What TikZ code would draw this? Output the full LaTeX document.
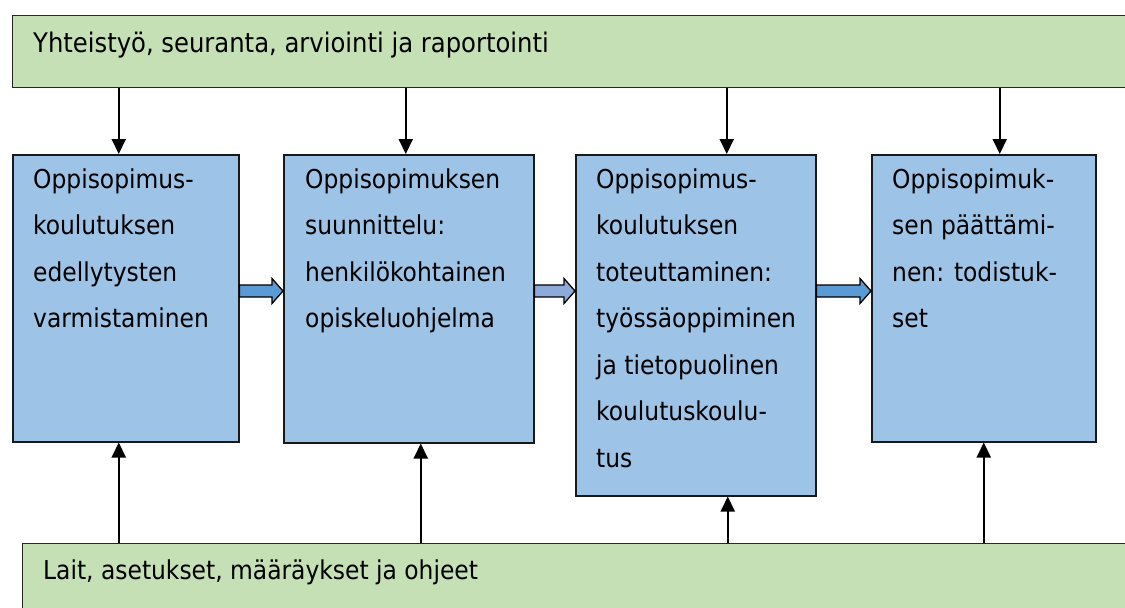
\documentclass[tikz,border=0pt]{standalone}
\usepackage{fontspec}
\setmainfont{DejaVu Sans Condensed}
\usetikzlibrary{arrows.meta}
\definecolor{framegreen}{HTML}{C5E0B4}
\definecolor{stepblue}{HTML}{9DC3E6}
\definecolor{arrowblue}{HTML}{5B9BD5}
\definecolor{arrowlilac}{HTML}{8EAADB}
% left-aligned lines stacked downward, the first baseline being the reference point
\newcommand\stacklines[1]{\vtop{\halign{##\hfil\cr#1\crcr}}}
\tikzset{
  greenbox/.style={draw=black!85, line width=1.3pt, fill=framegreen, inner sep=0pt},
  bluebox/.style={draw=black!90, line width=1.5pt, fill=stepblue, inner sep=0pt,
    minimum width=#1, anchor=north west},
  boxtext/.style={inner sep=0pt, anchor=base west,
    font=\fontsize{26}{46.5}\selectfont},
  feed/.style={line width=2pt, -{Triangle[length=15pt,width=14pt]}},
  blockarrow/.style={draw=black, line width=1.3pt, line join=miter}
}
% block arrow from the east side of #1 to the west side of #2, filled with #3
\newcommand\flowarrow[3]{%
  \draw[blockarrow, fill=#3]
    (#1.east |- 0,285) -- ([xshift=-11pt]#2.west |- 0,285)
    -- ([xshift=-11pt]#2.west |- 0,278.5) -- (#2.west |- 0,291)
    -- ([xshift=-11pt]#2.west |- 0,303.5) -- ([xshift=-11pt]#2.west |- 0,297)
    -- (#1.east |- 0,297) -- cycle;}
\begin{document}
\begin{tikzpicture}[x=1pt, y=-1pt]
\useasboundingbox (0,0) rectangle (1125,608);
\clip (0,0) rectangle (1125,608);
\fill[white] (0,0) rectangle (1125,608);

% frame bands above and below the process steps
\node[greenbox, minimum width=1130pt, minimum height=72pt, anchor=north west] (top) at (12,15) {};
\node[boxtext, font=\fontsize{27}{46.5}\selectfont] (toptext) at (33,52) {Yhteistyö, seuranta, arviointi ja raportointi};
\node[greenbox, minimum width=1120pt, minimum height=80pt, anchor=north west] (bottom) at (22,543) {};
\node[boxtext] (bottomtext) at (43,579) {Lait, asetukset, määräykset ja ohjeet};

% process steps
\node[bluebox=226pt, minimum height=287pt] (b1) at (12,154) {};
\node[bluebox=250pt, minimum height=288pt] (b2) at (283,154) {};
\node[bluebox=240pt, minimum height=341pt] (b3) at (575,154) {};
\node[bluebox=224pt, minimum height=287pt] (b4) at (871,154) {};

\node[boxtext] (t1) at (33,188) {\stacklines{Oppisopimus-\cr koulutuksen\cr edellytysten\cr varmistaminen}};
\node[boxtext] (t2) at (305,188) {\stacklines{Oppisopimuksen\cr suunnittelu:\cr henkilökohtainen\cr opiskeluohjelma}};
\node[boxtext] (t3) at (596,188) {\stacklines{Oppisopimus-\cr koulutuksen\cr toteuttaminen:\cr työssäoppiminen\cr ja tietopuolinen\cr koulutuskoulu-\cr tus}};
\node[boxtext] (t4) at (892,188) {\stacklines{Oppisopimuk-\cr sen päättämi-\cr nen: todistuk-\cr set}};

% arrows from the upper band down to each step
\draw[feed] ([xshift=-7pt]b1.north |- top.south) -- ([xshift=-7pt]b1.north);
\draw[feed] ([xshift=-3pt]b2.north |- top.south) -- ([xshift=-3pt]b2.north);
\draw[feed] ([xshift=31pt]b3.north |- top.south) -- ([xshift=31pt]b3.north);
\draw[feed] ([xshift=16pt]b4.north |- top.south) -- ([xshift=16pt]b4.north);

% arrows from the lower band up to each step
\draw[feed] ([xshift=-7pt]b1.south |- bottom.north) -- ([xshift=-7pt]b1.south);
\draw[feed] ([xshift=12pt]b2.south |- bottom.north) -- ([xshift=12pt]b2.south);
\draw[feed] ([xshift=32pt]b3.south |- bottom.north) -- ([xshift=32pt]b3.south);
\draw[feed] ([xshift=0pt]b4.south |- bottom.north) -- ([xshift=0pt]b4.south);

% block arrows between consecutive steps
\flowarrow{b1}{b2}{arrowblue}
\flowarrow{b2}{b3}{arrowlilac}
\flowarrow{b3}{b4}{arrowblue}
\end{tikzpicture}
\end{document}
